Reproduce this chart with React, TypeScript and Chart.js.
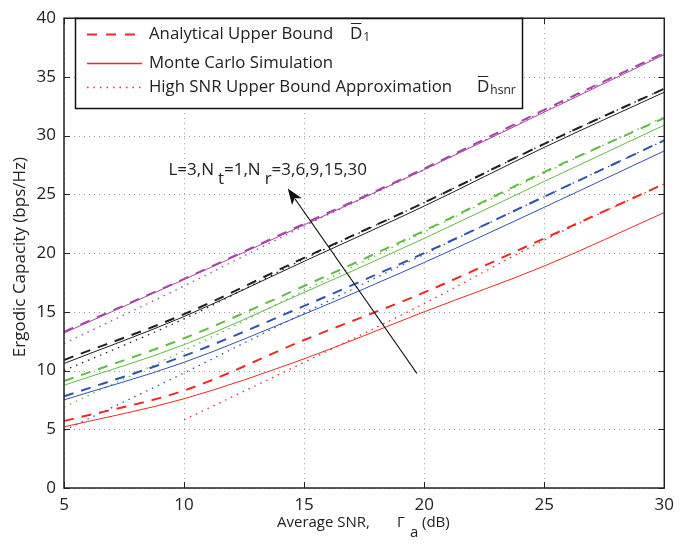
import React, { useEffect, useRef } from "react";
import { Chart, registerables } from "chart.js";
Chart.register(...registerables);

// Average SNR (dB)
const snr = [5, 10, 15, 20, 25, 30];
const xTicks = [5, 10, 15, 20, 25, 30];
const yTicks = [0, 5, 10, 15, 20, 25, 30, 35, 40];

// Nr = 3 (red)
const ub3 = [5.7, 8.3, 12.6, 16.65, 21.25, 25.9];
const mc3 = [5.2, 7.6, 11.0, 15.0, 18.9, 23.45];
const hs3 = [null, 5.8, 10.7, 15.7, 21.1, 25.9];
// Nr = 6 (blue)
const ub6 = [7.8, 11.25, 15.5, 20.0, 24.8, 29.6];
const mc6 = [7.5, 10.7, 14.8, 19.2, 23.9, 28.7];
const hs6 = [4.9, 9.8, 14.9, 19.9, 24.8, 29.6];
// Nr = 9 (green)
const ub9 = [9.1, 12.75, 17.2, 21.9, 26.9, 31.5];
const mc9 = [8.75, 12.2, 16.65, 21.25, 26.1, 30.9];
const hs9 = [6.9, 11.7, 16.8, 21.8, 26.8, 31.6];
// Nr = 15 (black)
const ub15 = [10.9, 14.8, 19.6, 24.3, 29.3, 34.0];
const mc15 = [10.6, 14.6, 19.3, 24.0, 29.0, 33.7];
const hs15 = [10.0, 14.4, 19.5, 24.3, 29.3, 34.0];
// Nr = 30 (magenta)
const ub30 = [13.3, 17.8, 22.5, 27.2, 32.2, 37.05];
const mc30 = [13.2, 17.75, 22.4, 27.1, 32.0, 36.9];
const hs30 = [12.3, 17.2, 22.3, 27.1, 32.1, 37.0];

// annotation (data coords)
const annoText = { x: 9.35, y: 26.67 };
const arrowTip = { x: 14.32, y: 25.5 };
const arrowTail = { x: 19.7, y: 9.75 };

const RED = "#ee2a24";
const BLUE = "#2f55a8";
const GREEN = "#62bb46";
const BLACK = "#231f20";
const MAGENTA = "#a845a8";

const FONT = "'Open Sans', Roboto, sans-serif";

function pts(vals: (number | null)[]) {
  return snr.map((x, i) => ({ x, y: vals[i] }));
}

const groups: [string, (number | null)[], (number | null)[], (number | null)[]][] = [
  [RED, ub3, mc3, hs3],
  [BLUE, ub6, mc6, hs6],
  [GREEN, ub9, mc9, hs9],
  [BLACK, ub15, mc15, hs15],
  [MAGENTA, ub30, mc30, hs30],
];

function buildDatasets() {
  const ds: any[] = [];
  for (const [c, ub, mc, hs] of groups) {
    ds.push({ data: pts(hs), borderColor: c, borderWidth: 1.3, borderDash: [1.5, 5], pointRadius: 0, cubicInterpolationMode: "monotone", spanGaps: false });
    ds.push({ data: pts(mc), borderColor: c, borderWidth: 1, pointRadius: 0, cubicInterpolationMode: "monotone" });
    ds.push({ data: pts(ub), borderColor: c, borderWidth: 2, borderDash: [10, 8], pointRadius: 0, cubicInterpolationMode: "monotone" });
  }
  return ds;
}

const decor = {
  id: "decor",
  beforeDatasetsDraw(chart: any) {
    const { ctx, chartArea: a, scales } = chart;
    const xs = scales.x, ys = scales.y;
    ctx.save();
    ctx.strokeStyle = "#9a9a9a";
    ctx.lineWidth = 1;
    ctx.setLineDash([1, 4]);
    for (const t of xTicks) {
      const px = Math.round(xs.getPixelForValue(t)) + 0.5;
      ctx.beginPath(); ctx.moveTo(px, a.top); ctx.lineTo(px, a.bottom); ctx.stroke();
    }
    for (const t of yTicks) {
      const py = Math.round(ys.getPixelForValue(t)) + 0.5;
      ctx.beginPath(); ctx.moveTo(a.left, py); ctx.lineTo(a.right, py); ctx.stroke();
    }
    ctx.restore();
  },
  afterDatasetsDraw(chart: any) {
    const { ctx, chartArea: a, scales } = chart;
    const xs = scales.x, ys = scales.y;
    ctx.save();
    // box
    ctx.strokeStyle = "#222";
    ctx.lineWidth = 1.5;
    ctx.setLineDash([]);
    ctx.strokeRect(a.left, a.top, a.right - a.left, a.bottom - a.top);
    // inward ticks
    ctx.lineWidth = 1;
    const tl = 6;
    for (const t of xTicks) {
      const px = Math.round(xs.getPixelForValue(t)) + 0.5;
      ctx.beginPath(); ctx.moveTo(px, a.bottom); ctx.lineTo(px, a.bottom - tl); ctx.stroke();
      ctx.beginPath(); ctx.moveTo(px, a.top); ctx.lineTo(px, a.top + tl); ctx.stroke();
    }
    for (const t of yTicks) {
      const py = Math.round(ys.getPixelForValue(t)) + 0.5;
      ctx.beginPath(); ctx.moveTo(a.left, py); ctx.lineTo(a.left + tl, py); ctx.stroke();
      ctx.beginPath(); ctx.moveTo(a.right, py); ctx.lineTo(a.right - tl, py); ctx.stroke();
    }

    // annotation text
    ctx.fillStyle = "#222";
    ctx.textBaseline = "alphabetic";
    ctx.textAlign = "left";
    ctx.font = `17px ${FONT}`;
    let tx = xs.getPixelForValue(annoText.x);
    const ty = ys.getPixelForValue(annoText.y);
    const parts: [string, boolean][] = [["L=3,N", false], ["t", true], ["=1,N", false], ["r", true], ["=3,6,9,15,30", false]];
    for (const [s, sub] of parts) {
      ctx.fillText(s, tx + (sub ? 4 : 0), ty + (sub ? 9 : 0));
      tx += ctx.measureText(s).width + (sub ? 4 : 0);
    }
    // arrow
    const x1 = xs.getPixelForValue(arrowTail.x), y1 = ys.getPixelForValue(arrowTail.y);
    const x2 = xs.getPixelForValue(arrowTip.x), y2 = ys.getPixelForValue(arrowTip.y);
    const ang = Math.atan2(y2 - y1, x2 - x1);
    const hl = 16, hw = 6;
    ctx.strokeStyle = "#111";
    ctx.lineWidth = 1.2;
    ctx.beginPath(); ctx.moveTo(x1, y1);
    ctx.lineTo(x2 - hl * 0.8 * Math.cos(ang), y2 - hl * 0.8 * Math.sin(ang)); ctx.stroke();
    ctx.fillStyle = "#111";
    ctx.beginPath();
    ctx.moveTo(x2, y2);
    ctx.lineTo(x2 - hl * Math.cos(ang) + hw * Math.sin(ang), y2 - hl * Math.sin(ang) - hw * Math.cos(ang));
    ctx.lineTo(x2 - hl * 0.75 * Math.cos(ang), y2 - hl * 0.75 * Math.sin(ang));
    ctx.lineTo(x2 - hl * Math.cos(ang) - hw * Math.sin(ang), y2 - hl * Math.sin(ang) + hw * Math.cos(ang));
    ctx.closePath(); ctx.fill();

    // legend
    const L = 75.5, T = 18.5, W = 447, H = 90;
    ctx.fillStyle = "#fff";
    ctx.fillRect(L, T, W, H);
    ctx.strokeStyle = "#111";
    ctx.lineWidth = 1.5;
    ctx.strokeRect(L, T, W, H);
    const rows: [number, number[], number, string][] = [
      [34, [10, 9], 2, "Analytical Upper Bound"],
      [63, [], 1.3, "Monte Carlo Simulation"],
      [87, [1.5, 5], 1.3, "High SNR Upper Bound Approximation"],
    ];
    ctx.font = `16.8px ${FONT}`;
    ctx.textBaseline = "middle";
    for (const [ry, dash, lw, label] of rows) {
      ctx.beginPath();
      ctx.setLineDash(dash);
      ctx.lineWidth = lw;
      ctx.strokeStyle = RED;
      ctx.moveTo(87, ry + 0.5); ctx.lineTo(142, ry + 0.5);
      ctx.stroke();
      ctx.setLineDash([]);
      ctx.fillStyle = "#222";
      ctx.fillText(label, 149, ry);
    }
    const dbar = (x: number, y: number, sub: string) => {
      ctx.font = `17px ${FONT}`;
      ctx.textBaseline = "middle";
      ctx.fillStyle = "#222";
      ctx.fillText("D", x, y);
      const w = ctx.measureText("D").width;
      ctx.strokeStyle = "#222"; ctx.lineWidth = 1;
      ctx.beginPath(); ctx.moveTo(x + 1, y - 10.5); ctx.lineTo(x + w - 1, y - 10.5); ctx.stroke();
      ctx.font = `12px ${FONT}`;
      ctx.fillText(sub, x + w + 1, y + 4);
    };
    dbar(350, 34, "1");
    dbar(477, 87, "hsnr");

    // axis labels
    ctx.fillStyle = "#222";
    ctx.font = `17px ${FONT}`;
    ctx.textBaseline = "middle";
    ctx.textAlign = "center";
    ctx.save();
    ctx.translate(20, (a.top + a.bottom) / 2 + 4);
    ctx.rotate(-Math.PI / 2);
    ctx.fillText("Ergodic Capacity (bps/Hz)", 0, 0);
    ctx.restore();
    ctx.textAlign = "left";
    ctx.font = `15px ${FONT}`;
    const ly = 523;
    ctx.fillText("Average SNR,", 277, ly);
    ctx.fillText("\u0393", 397, ly);
    ctx.fillText("a", 410, ly + 10);
    ctx.fillText("(dB)", 422, ly);
    ctx.restore();
  },
};

export default function App() {
  const ref = useRef<HTMLCanvasElement>(null);
  useEffect(() => {
    if (!ref.current) return;
    const chart = new Chart(ref.current, {
      type: "line",
      data: { datasets: buildDatasets() },
      options: {
        animation: false,
        responsive: false,
        devicePixelRatio: 1,
        layout: { padding: { top: 8, right: 8, left: 0, bottom: 0 } },
        plugins: { legend: { display: false }, tooltip: { enabled: false } },
        scales: {
          x: {
            type: "linear", min: 5, max: 30,
            afterFit: (s: any) => { s.height = 57; },
            afterBuildTicks: (s: any) => { s.ticks = xTicks.map((v) => ({ value: v })); },
            ticks: { color: "#222", font: { family: FONT, size: 17 }, padding: 7, maxRotation: 0 },
            grid: { display: false, drawTicks: false },
            border: { display: false },
          },
          y: {
            type: "linear", min: 0, max: 40,
            afterFit: (s: any) => { s.width = 64; },
            afterBuildTicks: (s: any) => { s.ticks = yTicks.map((v) => ({ value: v })); },
            ticks: { color: "#222", font: { family: FONT, size: 17 }, padding: 8 },
            grid: { display: false, drawTicks: false },
            border: { display: false },
          },
        },
      },
      plugins: [decor],
    } as any);
    return () => chart.destroy();
  }, []);
  return (
    <div style={{ position: "absolute", left: 0, top: 0, width: 681, height: 545, background: "#fff" }}>
      <canvas ref={ref} width={681} height={545} style={{ display: "block", width: 681, height: 545 }} />
    </div>
  );
}
